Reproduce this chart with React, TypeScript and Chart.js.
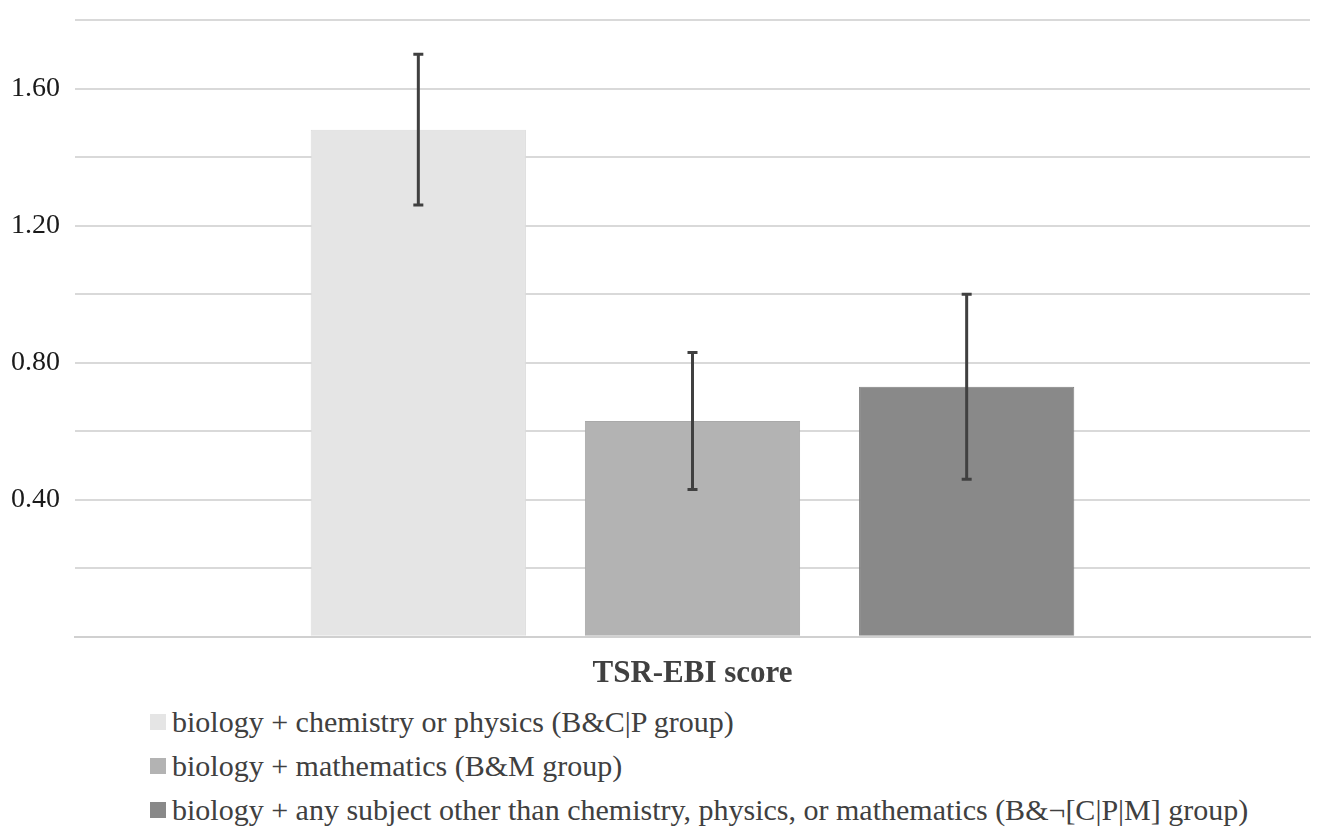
import React, { useEffect, useRef } from "react";
import { Chart, registerables, Plugin } from "chart.js";

Chart.register(...registerables);

const categories = ["TSR-EBI score"];
const groupNames = [
    "biology + chemistry or physics (B&C|P group)",
    "biology + mathematics (B&M group)",
    "biology + any subject other than chemistry, physics, or mathematics (B&¬[C|P|M] group)",
];
const meanScores = [1.48, 0.63, 0.73];
const errorLow = [1.26, 0.43, 0.46];
const errorHigh = [1.7, 0.83, 1.0];
const yTickLabels = [0.4, 0.8, 1.2, 1.6];

const fillColors = ["#e5e5e5", "#b3b3b3", "#898989"];
const borderColors = ["#dcdcdc", "#a9a9a9", "#808080"];

const FONT = "'Liberation Serif', 'Times New Roman', serif";

// draws the error bars on top of each bar
const errorBarPlugin: Plugin<"bar"> = {
    id: "errorBars",
    afterDatasetsDraw(chart) {
        const { ctx } = chart;
        const y = chart.scales.y;
        ctx.save();
        ctx.strokeStyle = "#404040";
        ctx.lineWidth = 3;
        chart.data.datasets.forEach((_, i) => {
            const meta = chart.getDatasetMeta(i);
            const bar = meta.data[0];
            if (!bar) return;
            const x = bar.x;
            const top = y.getPixelForValue(errorHigh[i]);
            const bottom = y.getPixelForValue(errorLow[i]);
            ctx.beginPath();
            ctx.moveTo(x, top);
            ctx.lineTo(x, bottom);
            ctx.moveTo(x - 5, top);
            ctx.lineTo(x + 5, top);
            ctx.moveTo(x - 5, bottom);
            ctx.lineTo(x + 5, bottom);
            ctx.stroke();
        });
        ctx.restore();
    },
};

const App: React.FC = () => {
    const canvasRef = useRef<HTMLCanvasElement>(null!);
    const chartRef = useRef<Chart<"bar"> | null>(null);

    useEffect(() => {
        document.body.style.margin = "0";
        if (!canvasRef.current) return;
        chartRef.current?.destroy();
        chartRef.current = new Chart(canvasRef.current, {
            type: "bar",
            data: {
                labels: categories,
                datasets: groupNames.map((name, i) => ({
                    label: name,
                    data: [meanScores[i]],
                    backgroundColor: fillColors[i],
                    borderColor: borderColors[i],
                    borderWidth: 1,
                    categoryPercentage: 0.666,
                    barPercentage: 0.785,
                })),
            },
            options: {
                animation: false,
                responsive: false,
                layout: { padding: { top: 20, right: 15, bottom: -12, left: 0 } },
                plugins: {
                    legend: { display: false },
                    tooltip: { enabled: false },
                },
                scales: {
                    x: {
                        grid: { display: false, drawTicks: false },
                        border: { color: "#d0d0d0", width: 2 },
                        ticks: {
                            padding: 19,
                            color: "#404040",
                            font: { family: FONT, size: 31, weight: "bold" },
                        },
                    },
                    y: {
                        min: 0,
                        max: 1.8,
                        border: { display: false },
                        grid: { color: "#d9d9d9", lineWidth: 2, drawTicks: false },
                        afterFit: (scale) => {
                            scale.width = 75;
                            scale.paddingTop = 0;
                            scale.paddingBottom = 0;
                        },
                        ticks: {
                            stepSize: 0.2,
                            padding: 15,
                            color: "#1a1a1a",
                            font: { family: FONT, size: 28 },
                            callback: (v) => {
                                const n = Number(v);
                                return yTickLabels.some((t) => Math.abs(t - n) < 1e-6) ? n.toFixed(2) : "";
                            },
                        },
                    },
                },
            },
            plugins: [errorBarPlugin],
        });
        return () => {
            chartRef.current?.destroy();
            chartRef.current = null;
        };
    }, []);

    return (
        <div style={{ width: 1325, height: 839, background: "#fff", fontFamily: FONT }}>
            <canvas ref={canvasRef} width={1325} height={700} style={{ display: "block" }}></canvas>
            <div style={{ paddingLeft: 150 }}>
                {groupNames.map((name, i) => (
                    <div key={name} style={{ display: "flex", alignItems: "center", height: 44, fontSize: 30, color: "#404040" }}>
                        <span style={{ width: 16, height: 16, background: fillColors[i], marginRight: 6, display: "inline-block" }}></span>
                        <span>{name}</span>
                    </div>
                ))}
            </div>
        </div>
    );
};

export default App;
